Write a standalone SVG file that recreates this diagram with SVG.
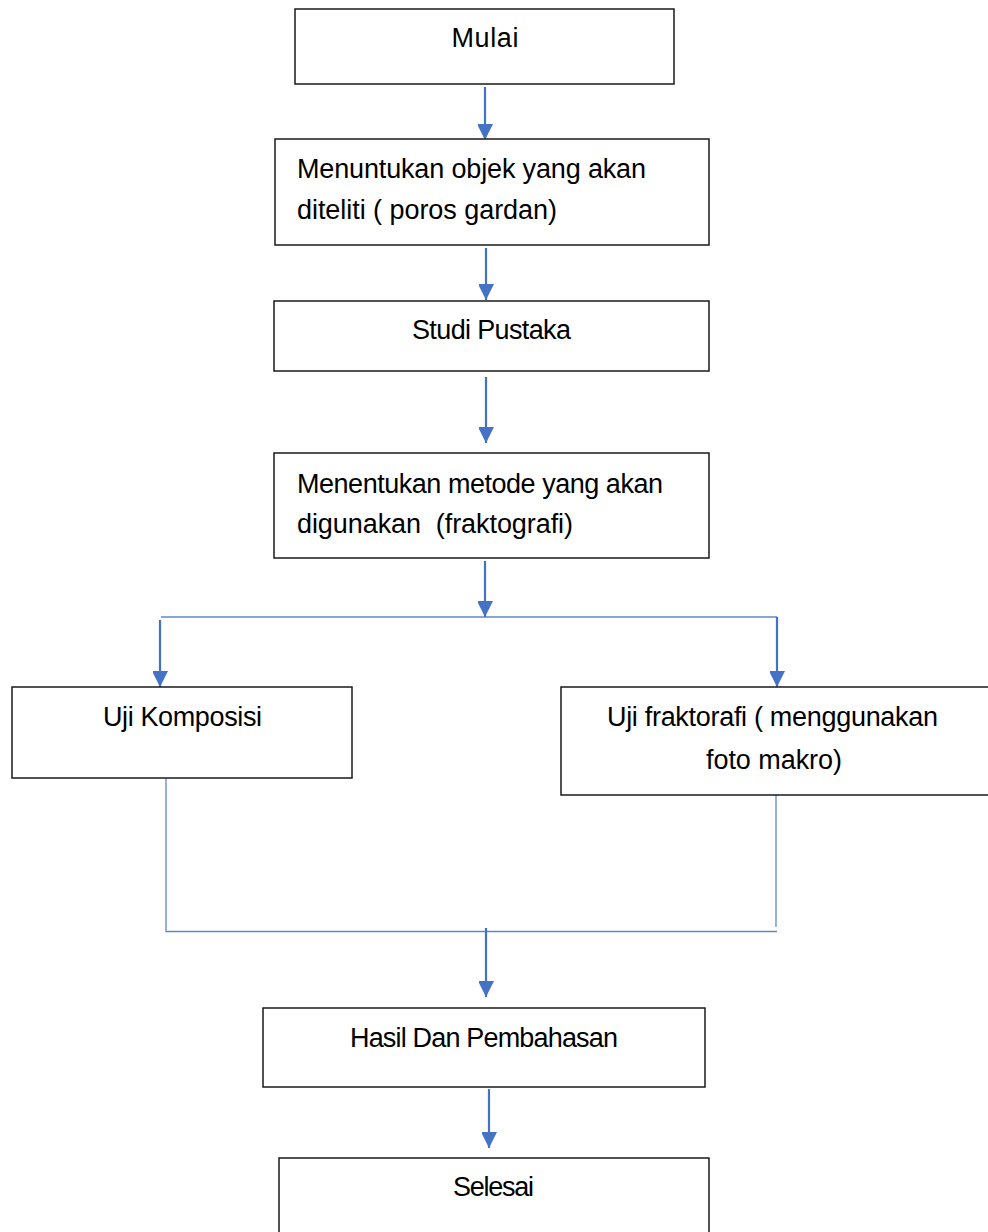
<svg xmlns="http://www.w3.org/2000/svg" width="988" height="1232" viewBox="0 0 988 1232">
<style>
.box{fill:#fff;stroke:#1a1a1a;stroke-width:1.5}
.t{font-family:"Liberation Sans",Arial,sans-serif;font-size:27px;fill:#000}
.c{text-anchor:middle}
.arr{stroke:#4472C4;stroke-width:2.2;fill:none}
.thin{stroke:#4472C4;stroke-width:1.3;fill:none;opacity:0.85}
</style>
<defs>
<marker id="ah" viewBox="0 0 16 15" refX="16" refY="8" markerWidth="16" markerHeight="15" markerUnits="userSpaceOnUse" orient="auto">
<path d="M0,0 L16,8 L0,16 Z" fill="#4472C4"/>
</marker>
</defs>
<rect width="988" height="1232" fill="#fff"/>
<g id="connectors">
<line class="arr" x1="485" y1="87" x2="485" y2="140" marker-end="url(#ah)"/>
<line class="arr" x1="486" y1="248" x2="486" y2="300" marker-end="url(#ah)"/>
<line class="arr" x1="486" y1="377" x2="486" y2="443" marker-end="url(#ah)"/>
<line class="arr" x1="485" y1="561" x2="485" y2="617" marker-end="url(#ah)"/>
<line class="thin" x1="161" y1="617" x2="777" y2="617"/>
<line class="arr" x1="160" y1="620" x2="160" y2="687" marker-end="url(#ah)"/>
<line class="arr" x1="777" y1="617" x2="777" y2="687" marker-end="url(#ah)"/>
<polyline class="thin" points="166,778 166,931.5 777,931.5"/>
<line class="thin" x1="776" y1="795" x2="776" y2="927"/>
<line class="arr" x1="486" y1="928" x2="486" y2="997" marker-end="url(#ah)"/>
<line class="arr" x1="489" y1="1089" x2="489" y2="1148" marker-end="url(#ah)"/>
</g>
<g id="mulai">
<rect class="box" x="295" y="9" width="379" height="75"/>
<text class="t c" x="485" y="47" textLength="67">Mulai</text>
</g>
<g id="objek">
<rect class="box" x="275" y="139" width="434" height="106"/>
<text class="t" x="297" y="178" textLength="349">Menuntukan objek yang akan</text>
<text class="t" x="297" y="219" textLength="260">diteliti ( poros gardan)</text>
</g>
<g id="studi">
<rect class="box" x="274" y="301" width="435" height="70"/>
<text class="t" x="412" y="339" textLength="159">Studi Pustaka</text>
</g>
<g id="metode">
<rect class="box" x="274" y="453" width="435" height="105"/>
<text class="t" x="297" y="493" textLength="366">Menentukan metode yang akan</text>
<text class="t" x="297" y="533" textLength="276" xml:space="preserve">digunakan  (fraktografi)</text>
</g>
<g id="komposisi">
<rect class="box" x="12" y="687" width="340" height="91"/>
<text class="t" x="103" y="726" textLength="159">Uji Komposisi</text>
</g>
<g id="fraktorafi">
<rect class="box" x="561" y="687" width="440" height="108"/>
<text class="t" x="607" y="726" textLength="331">Uji fraktorafi ( menggunakan</text>
<text class="t" x="706" y="769" textLength="136">foto makro)</text>
</g>
<g id="hasil">
<rect class="box" x="263" y="1008" width="442" height="79"/>
<text class="t" x="350" y="1047" textLength="268">Hasil Dan Pembahasan</text>
</g>
<g id="selesai">
<rect class="box" x="279" y="1158" width="430" height="90"/>
<text class="t" x="453" y="1196" textLength="81">Selesai</text>
</g>
</svg>
